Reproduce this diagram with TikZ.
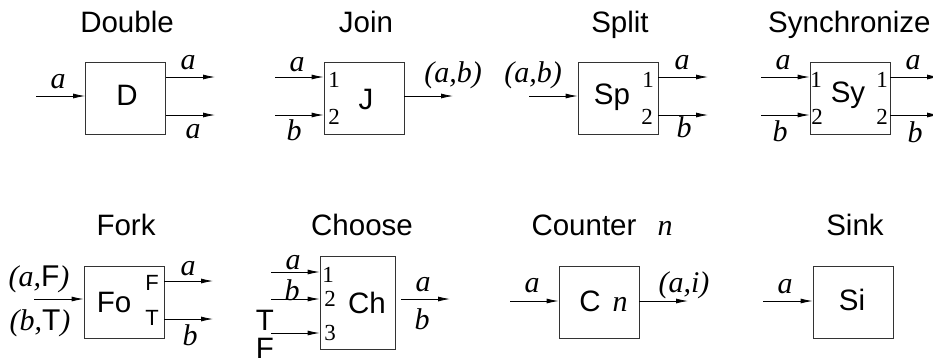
\documentclass[tikz,border=0pt]{standalone}
\usepackage{fontspec}
\setmainfont{Liberation Serif}
\setsansfont{Liberation Sans}
\usetikzlibrary{arrows.meta}
\begin{document}
\begin{tikzpicture}[x=1pt,y=-1pt,
  blk/.style={draw=black!80,line width=0.8pt,minimum width=80pt,minimum height=72pt,inner sep=0pt},
  arr/.style={line width=0.8pt,-{Latex[length=12pt,width=5pt]}},
  ttl/.style={font=\fontsize{29.5}{30}\selectfont\sffamily,anchor=base,inner sep=0pt},
  bl/.style={font=\fontsize{29.5}{30}\selectfont\sffamily,inner sep=0pt},
  lab/.style={font=\fontsize{30}{30}\selectfont\itshape,inner sep=0pt},
  prt/.style={font=\fontsize{23}{23}\selectfont,inner sep=0pt},
  prs/.style={font=\fontsize{22}{22}\selectfont\sffamily,inner sep=0pt}]
\useasboundingbox (0,0) rectangle (933,360);
% ---------- Double
\node[ttl] (tD) at (127,32.5) {Double};
\node[blk] (D) at (125.5,98) {};
\node[bl] (lD) at (127,95) {D};
\coordinate (dIn) at (36,96);
\coordinate (dO1) at (215,77);
\coordinate (dO2) at (215,115);
\draw[arr] (dIn) -- (dIn -| D.west);
\draw[arr] (D.east |- dO1) -- (dO1);
\draw[arr] (D.east |- dO2) -- (dO2);
\node[lab] (dLa) at (58,82) {a};
\node[lab] (dLb) at (188,63) {a};
\node[lab] (dLc) at (193,132) {a};
% ---------- Join
\node[ttl] (tJ) at (366,32.5) {Join};
\node[blk] (J) at (364,98) {};
\node[bl] (lJ) at (366,99) {J};
\coordinate (jI1) at (275,77);
\coordinate (jI2) at (275,115);
\coordinate (jO) at (453,96);
\draw[arr] (jI1) -- (jI1 -| J.west);
\draw[arr] (jI2) -- (jI2 -| J.west);
\draw[arr] (J.east |- jO) -- (jO);
\node[lab] (jLa) at (297,65) {a};
\node[lab] (jLb) at (294,130) {b};
\node[prt] (jP1) at (334,80) {1};
\node[prt] (jP2) at (334,117) {2};
\node[lab] (jLab) at (453,75) {(a,b)};
% ---------- Split
\node[ttl] (tSp) at (620,32.5) {Split};
\node[blk] (Sp) at (618,98) {};
\node[bl] (lSp) at (612,97) {Sp};
\coordinate (sI) at (529,96);
\coordinate (sO1) at (708,77);
\coordinate (sO2) at (708,115);
\draw[arr] (sI) -- (sI -| Sp.west);
\draw[arr] (Sp.east |- sO1) -- (sO1);
\draw[arr] (Sp.east |- sO2) -- (sO2);
\node[lab] (sLab) at (533,75) {(a,b)};
\node[prt] (sP1) at (648,80) {1};
\node[prt] (sP2) at (647,117) {2};
\node[lab] (sLa) at (682,63) {a};
\node[lab] (sLb) at (684,127) {b};
% ---------- Synchronize
\node[ttl,anchor=base west] (tSy) at (768,32.5) {Synchronize};
\node[blk] (Sy) at (850,98) {};
\node[bl] (lSy) at (848,95) {Sy};
\coordinate (yI1) at (761,77);
\coordinate (yI2) at (761,115);
\coordinate (yO1) at (939,77);
\coordinate (yO2) at (939,115);
\draw[arr] (yI1) -- (yI1 -| Sy.west);
\draw[arr] (yI2) -- (yI2 -| Sy.west);
\draw[arr] (Sy.east |- yO1) -- (yO1);
\draw[arr] (Sy.east |- yO2) -- (yO2);
\node[lab] (yLa) at (783,63) {a};
\node[lab] (yLb) at (780,131) {b};
\node[prt] (yP1) at (816,80) {1};
\node[prt] (yP2) at (817,117) {2};
\node[prt] (yQ1) at (882,80) {1};
\node[prt] (yQ2) at (882,117) {2};
\node[lab] (yLc) at (913,63) {a};
\node[lab] (yLd) at (915,132) {b};
% ---------- Fork
\node[ttl] (tFo) at (126,235) {Fork};
\node[blk] (Fo) at (124,302) {};
\node[bl] (lFo) at (114,302) {Fo};
\coordinate (fI) at (34,299);
\coordinate (fO1) at (213,281);
\coordinate (fO2) at (213,319);
\draw[arr] (fI) -- (fI -| Fo.west);
\draw[arr] (Fo.east |- fO1) -- (fO1);
\draw[arr] (Fo.east |- fO2) -- (fO2);
\node[lab] (fLaF) at (39,279) {(a,{\upshape\sffamily F})};
\node[lab] (fLbT) at (40,323) {(b,{\upshape\sffamily T})};
\node[prs] (fPF) at (152,283) {F};
\node[prs] (fPT) at (152,318) {T};
\node[lab] (fLa) at (188,269) {a};
\node[lab] (fLb) at (190,335) {b};
% ---------- Choose
\node[ttl] (tCh) at (362,235) {Choose};
\node[blk,minimum width=75pt,minimum height=93pt] (Ch) at (357.5,302.5) {};
\node[bl] (lCh) at (367,303) {Ch};
\coordinate (cI1) at (271,272);
\coordinate (cI2) at (271,299);
\coordinate (cI3) at (271,333);
\coordinate (cOs) at (401,299);
\coordinate (cOe) at (450,299);
\draw[arr] (cI1) -- (cI1 -| Ch.west);
\draw[arr] (cI2) -- (cI2 -| Ch.west);
\draw[arr] (cI3) -- (cI3 -| Ch.west);
\draw[arr] (cOs) -- (cOe);
\node[lab] (cLa) at (293,263) {a};
\node[lab] (cLb) at (292,290) {b};
\node[bl] (cLT) at (265,320) {T};
\node[bl] (cLF) at (265,348) {F};
\node[prt] (cP1) at (328,275) {1};
\node[prt] (cP2) at (330,299) {2};
\node[prt] (cP3) at (330,333) {3};
\node[lab] (cLc) at (423,285) {a};
\node[lab] (cLd) at (422,319) {b};
% ---------- Counter
\node[ttl] (tC) at (584,235) {Counter};
\node[lab,anchor=base] (tCn) at (665,235) {n};
\node[blk] (C) at (599,302) {};
\node[bl] (lC) at (590,301) {C};
\node[lab] (lCn) at (620,304) {n};
\coordinate (kI) at (510,301);
\coordinate (kO) at (688,301);
\draw[arr] (kI) -- (kI -| C.west);
\draw[arr] (C.east |- kO) -- (kO);
\node[lab] (kLa) at (532,286) {a};
\node[lab] (kLai) at (684,285) {(a,i)};
% ---------- Sink
\node[ttl] (tSi) at (855,235) {Sink};
\node[blk] (Si) at (853,302) {};
\node[bl] (lSi) at (852,300) {Si};
\coordinate (iI) at (763,301);
\draw[arr] (iI) -- (iI -| Si.west);
\node[lab] (iLa) at (785,287) {a};
\end{tikzpicture}
\end{document}
